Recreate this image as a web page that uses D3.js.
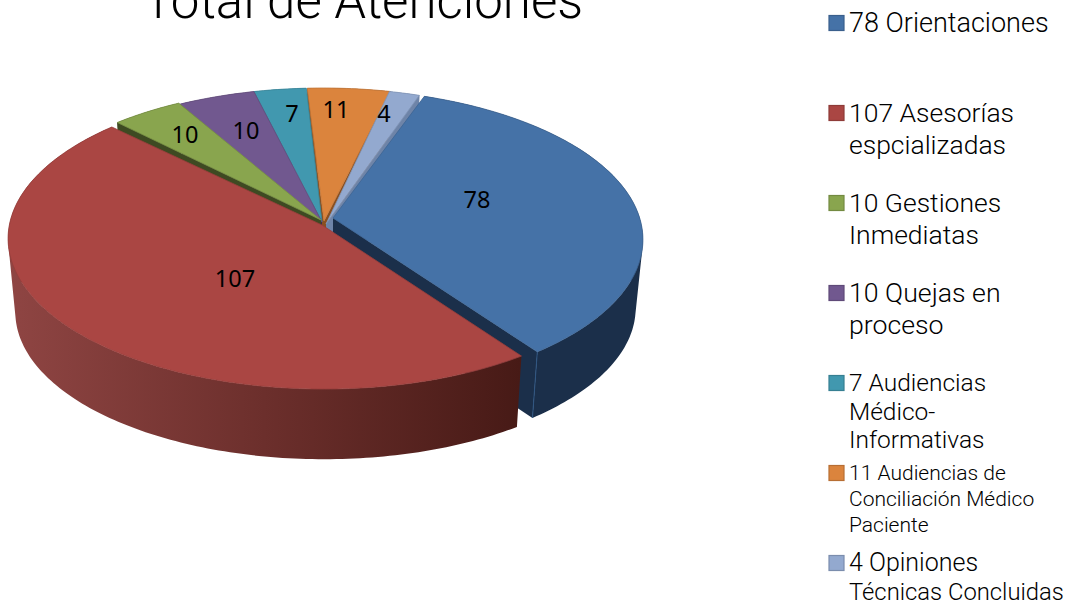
<!DOCTYPE html>
<html>
<head>
<meta charset="utf-8">
<script src="https://cdn.jsdelivr.net/npm/d3@7"></script>
<style>
  html, body { margin: 0; padding: 0; background: #fff; overflow: hidden; }
  svg { display: block; }
</style>
</head>
<body>
<svg id="drawing_region"></svg>
<script>
// data
const values = [78, 107, 10, 10, 7, 11, 4];
const legend_lines = [
    ['78 Orientaciones'],
    ['107 Asesorías', 'espcializadas'],
    ['10 Gestiones', 'Inmediatas'],
    ['10 Quejas en', 'proceso'],
    ['7 Audiencias', 'Médico-', 'Informativas'],
    ['11 Audiencias de', 'Conciliación Médico', 'Paciente'],
    ['4 Opiniones', 'Técnicas Concluidas']
];
const title_text = 'Total de Atenciones';

// styles and layout
const colors = ['#4572a7', '#aa4643', '#89a54e', '#71588f', '#4198af', '#db843d', '#93a9cf'];
const wall_colors = ['#1b2f4a', '#4a1a16', '#3e4a22', '#3c2c50', '#235a68', '#8a4f20', '#6e84a8'];
const apex_off = [[11, -4], [0, 3], [-1, -2], [0, 0], [0, 0], [2, -1], [4, 2]];
const rim_off = [[5, 1], [2, 0], [-1, -1], [0, 0], [0, 0], [1, 0], [0, 0]];
// the real picture's projection is not quite mine, nudge the rim ends (degrees)
const rim_trim = [[0, -1.4], [1.4, 0], [2.2, 1], [1, 1], [1, 0.6], [0.6, 0.1], [0.1, 0]];
const depths = [69, 74, 74, 74, 74, 74, 74];
const label_pos = [[477, 200], [235, 279], [185, 135], [246, 131], [292, 114], [336, 110], [384, 114]];
const draw_order = [5, 6, 4, 3, 2, 0, 1];   // back to front
const legend_y = [23, 113, 203, 293, 383, 473, 563];
const legend_step = [32, 32, 32, 32, 28.5, 26, 29];
const legend_size = [[27], [26.5, 26.5], [26.5, 26.5], [26.7, 26.7], [24.5, 24.5, 24.5], [21, 21, 21], [25, 23.8]];

const width = 1068, height = 604;
const apex = [322, 222];
const R = 314, A = 148.7, persp = 9.1;
const first_angle = 20 * Math.PI / 180;
const shrink = 0.977;
const deg = Math.PI / 180;

const svg = d3.select('#drawing_region')
    .attr('width', width)
    .attr('height', height);

const pie = d3.pie().sort(null)
    .startAngle(first_angle)
    .endAngle(first_angle + 2 * Math.PI);
const slices = pie(values);

// circle angle -> screen point, with a little perspective
function project(angle, off) {
    const X = Math.sin(angle), Y = -Math.cos(angle);
    const f = persp / (persp - Y);
    return [apex[0] + off[0] + R * X * f, apex[1] + off[1] + A * Y * f];
}
function lower(p, i) {
    const ax = apex[0] + rim_off[i][0], ay = apex[1] + rim_off[i][1];
    return [ax + (p[0] - ax) * shrink, ay + depths[i] + (p[1] - ay) * shrink];
}
function arc_points(i) {
    const a0 = slices[i].startAngle + rim_trim[i][0] * deg;
    const a1 = slices[i].endAngle + rim_trim[i][1] * deg;
    const n = Math.ceil((a1 - a0) / deg);
    return d3.range(n + 1).map(k => project(a0 + (a1 - a0) * k / n, rim_off[i]));
}

const line = d3.line();
const closed = pts => line(pts) + 'Z';

// outer side as one path of quads, so the silhouette is the swept one
function side_path(top_arc, bottom_arc) {
    let d = '';
    for (let k = 0; k < top_arc.length - 1; k++) {
        let quad = [top_arc[k], top_arc[k + 1], bottom_arc[k + 1], bottom_arc[k]];
        if (d3.polygonArea(quad) < 0) quad = quad.reverse();
        d += closed(quad);
    }
    return d;
}

const defs = svg.append('defs');
const red_grad = defs.append('linearGradient')
    .attr('id', 'red_side')
    .attr('gradientUnits', 'userSpaceOnUse')
    .attr('x1', 8).attr('x2', 520).attr('y1', 0).attr('y2', 0);
red_grad.append('stop').attr('offset', '0').attr('stop-color', '#8f4543');
red_grad.append('stop').attr('offset', '0.5').attr('stop-color', '#6c2f2c');
red_grad.append('stop').attr('offset', '1').attr('stop-color', '#471a16');

const pie_group = svg.append('g');

draw_order.forEach(i => {
    const a = [apex[0] + apex_off[i][0], apex[1] + apex_off[i][1]];
    const top_arc = arc_points(i);
    const bottom_arc = top_arc.map(p => lower(p, i));
    const side_fill = i === 1 ? 'url(#red_side)' : wall_colors[i];

    // inner walls, only the ones facing the viewer
    [0, top_arc.length - 1].forEach((idx, k) => {
        const ang = k === 0 ? slices[i].startAngle : slices[i].endAngle;
        const facing = k === 0 ? Math.sin(ang) < 0 : Math.sin(ang) > 0;
        if (!facing) return;
        const p = top_arc[idx];
        pie_group.append('path')
            .attr('d', closed([a, p, lower(p, i), lower(a, i)]))
            .attr('fill', wall_colors[i]);
    });

    pie_group.append('path')
        .attr('d', side_path(top_arc, bottom_arc))
        .attr('fill', side_fill);

    // lighter seam at the blue corner
    if (i === 0) {
        const p = top_arc[top_arc.length - 1];
        pie_group.append('path')
            .attr('d', line([p, lower(p, i)]))
            .attr('stroke', '#2f5683')
            .attr('fill', 'none');
    }

    pie_group.append('path')
        .attr('d', closed([a].concat(top_arc)))
        .attr('fill', colors[i])
        .attr('stroke', d3.color(colors[i]).darker(0.35))
        .attr('stroke-width', 0.8)
        .attr('stroke-linejoin', 'round');
});

// value labels
svg.append('g').selectAll('text')
    .data(values)
    .join('text')
    .attr('x', (d, i) => label_pos[i][0])
    .attr('y', (d, i) => label_pos[i][1])
    .attr('dy', '0.36em')
    .attr('text-anchor', 'middle')
    .attr('font-family', '"Noto Sans", sans-serif')
    .attr('font-size', 23.5)
    .attr('fill', '#000')
    .text(d => d);

// title, cut by the top of the picture in the reference
svg.append('text')
    .attr('x', 363)
    .attr('y', 18)
    .attr('text-anchor', 'middle')
    .attr('font-family', 'Roboto, sans-serif')
    .attr('font-weight', 300)
    .attr('font-size', 51)
    .attr('fill', '#000')
    .text(title_text);

// legend
const legend = svg.append('g').selectAll('g')
    .data(legend_lines)
    .join('g');

legend.append('rect')
    .attr('x', 829)
    .attr('y', (d, i) => legend_y[i] - 7.5)
    .attr('width', 15)
    .attr('height', 15)
    .attr('fill', (d, i) => colors[i])
    .attr('stroke', (d, i) => d3.color(colors[i]).darker(0.5))
    .attr('stroke-width', 1.2);

legend.each(function(lines, i) {
    d3.select(this).selectAll('text')
        .data(lines)
        .join('text')
        .attr('x', 849)
        .attr('y', (d, k) => legend_y[i] + k * legend_step[i])
        .attr('dy', '0.33em')
        .attr('font-family', 'Roboto, sans-serif')
        .attr('font-weight', 300)
        .attr('font-size', (d, k) => legend_size[i][k])
        .attr('fill', '#000')
        .text(d => d);
});
</script>
</body>
</html>
